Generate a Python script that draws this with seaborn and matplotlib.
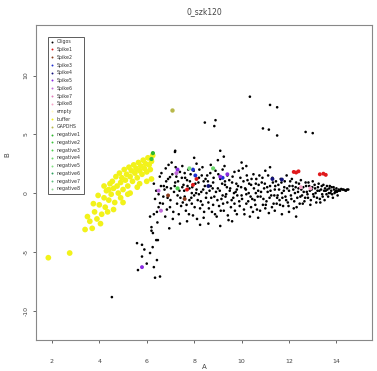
import matplotlib
matplotlib.use("Agg")
import matplotlib.pyplot as plt
import seaborn as sns
import pandas as pd
from matplotlib.lines import Line2D

title = "0_szk120"
x_label = "A"
y_label = "B"
x_ticks = [2, 4, 6, 8, 10, 12, 14]
y_ticks = [-10, -5, 0, 5, 10]

legend_labels = ["Oligos", "Spike1", "Spike2", "Spike3", "Spike4", "Spike5", "Spike6",
                 "Spike7", "Spike8", "empty", "buffer", "GAPDHS", "negative1", "negative2",
                 "negative3", "negative4", "negative5", "negative6", "negative7", "negative8"]
legend_colors = ["#000000", "#e0191b", "#8b3a1a", "#1f2fd0", "#12127a", "#8a2be2", "#c06ad8",
                 "#e07ab8", "#f5a6c8", "#fffcc0", "#f2f21a", "#b8b84a", "#2eb82e", "#3cc43c",
                 "#4fd04f", "#6ad86a", "#80e080", "#2e9e5e", "#5fbf7f", "#90d890"]

oligo_A = [6.3, 6.4, 6.35, 6.5, 6.3, 6.45, 6.2, 6.55, 6.4, 6.25, 6.5, 6.6,
           5.59, 5.8, 6.14, 5.8, 6.43, 5.63, 6.56, 6.35, 4.53, 6.2, 6.26, 6.47, 6.14, 6.43,
           6.56, 6.7, 6.85, 6.98, 7.27, 7.19, 6.0, 5.9, 6.3,
           6.8, 6.9, 6.75, 7.0, 6.85, 7.1, 7.2, 7.3, 7.4, 7.05, 7.45, 7.35, 7.15, 7.25, 7.5,
           6.95, 7.4, 7.5,
           7.6, 7.7, 7.65, 7.8, 7.75, 7.9, 7.85, 8.0, 8.05, 7.95, 8.1, 8.15, 8.2, 8.25, 8.3,
           8.35, 8.4, 8.45, 8.5, 7.55, 7.7, 8.0, 8.25, 7.8, 8.1, 8.4, 7.6, 8.2, 8.35, 7.9,
           8.55, 8.6, 8.65, 8.7, 8.75, 8.8, 8.85, 8.9, 8.95, 9.0, 9.05, 9.1, 9.15, 9.2, 9.25,
           9.3, 9.35, 9.4, 9.45, 9.5, 8.6, 9.0, 8.8, 9.2, 9.4, 8.7, 9.1, 9.3,
           9.55, 9.6, 9.65, 9.7, 9.75, 9.8, 9.85, 9.9, 9.95, 10.0, 10.05, 10.1, 10.15, 10.2,
           10.25, 10.3, 10.35, 10.4, 10.45, 10.5, 9.6, 10.0, 9.8, 10.2, 10.4, 9.7,
           10.55, 10.6, 10.65, 10.7, 10.75, 10.8, 10.85, 10.9, 10.95, 11.0, 11.05, 11.1,
           11.15, 11.2, 11.25, 11.3, 11.35, 11.4, 11.45, 11.5, 10.7, 11.0, 11.2, 10.6, 11.4,
           11.55, 11.6, 11.65, 11.7, 11.75, 11.8, 11.85, 11.9, 11.95, 12.0, 12.05, 12.1,
           12.15, 12.2, 12.25, 12.3, 12.35, 12.4, 12.45, 12.5, 11.7, 12.0, 12.3,
           12.55, 12.6, 12.65, 12.7, 12.75, 12.8, 12.85, 12.9, 12.95, 13.0, 13.05, 13.1,
           13.15, 13.2, 13.25, 13.3, 13.35, 13.4, 13.45, 13.5,
           13.55, 13.6, 13.65, 13.7, 13.75, 13.8, 13.85, 13.9, 13.95, 14.0, 14.05, 14.1,
           14.15, 14.25, 14.35, 14.45,
           10.35, 11.2, 11.5, 8.45, 8.9, 8.85, 10.9, 11.15, 11.5, 12.7, 13.0, 7.2, 9.1,
           9.25, 10.2]
oligo_B = [0.8, 0.2, -0.5, -1.2, -1.8, -2.5, -3.2, 1.4, -4.0, -4.6, -0.1, 0.6,
           -4.26, -4.4, -5.1, -5.4, -5.7, -6.55, -7.1, -7.2, -8.85, -2.9, -3.4, -4.0, -2.0,
           -1.6, -0.85, -0.3, 0.5, 1.36, 1.7, 3.5, -6.0, -4.8, -6.3,
           2.1, 1.2, 0.3, -0.6, -1.4, -2.2, 0.9, -0.2, 1.8, 2.6, -1.1, -1.8, 0.1, 1.4, 0.5,
           -3.0, -2.6, 2.3,
           -0.3, 1.1, -1.5, 0.4, 2.0, -0.9, 1.6, -0.2, 0.8, -1.9, 2.5, -0.6, 1.3, -1.3, 0.1,
           2.2, -2.1, 0.6, -0.4, 0.7, -2.4, 3.0, -2.7, -0.6, 0.3, 1.0, 1.7, -0.1, -1.0, 0.0,
           1.5, -0.8, 0.2, 2.4, -1.6, 0.9, -0.3, 1.9, -2.0, 0.4, -1.1, 1.2, -0.5, 2.0, -1.5,
           0.7, -0.1, 1.5, -2.3, 0.2, -2.6, 2.8, -1.0, -0.2, -0.8, 0.6, -2.8, 1.0,
           -1.2, 0.9, -0.4, 1.8, 0.1, -1.8, 0.6, -0.7, 1.3, -0.2, 2.1, -1.4, 0.4, -0.9,
           1.1, 0.0, -2.0, 0.7, -0.5, 1.6, -2.4, 2.6, 0.3, -0.1, -1.2, -0.9,
           -0.6, 0.8, -1.4, 0.2, 1.5, -0.3, 0.9, -1.0, 0.4, 1.9, -0.7, 0.1,
           -1.7, 0.6, -0.2, 1.3, -0.9, 0.3, 1.0, -0.4, -2.1, -1.3, 2.2, 0.0, -1.5,
           0.7, -0.6, 1.2, 0.0, -1.1, 0.5, -0.3, 1.5, -0.8, 0.2, 1.0, -0.5,
           0.6, -1.3, 0.0, 0.9, -0.4, 0.4, -0.9, 1.1, -1.8, -1.6, -2.0,
           -0.2, 0.5, -0.7, 0.9, 0.1, -0.4, 0.6, -1.0, 0.3, 1.0, -0.3, 0.4,
           -0.8, 0.2, 0.8, -0.5, 0.3, -0.1, 0.7, -0.6,
           0.2, 0.6, -0.3, 0.4, 0.0, 0.5, -0.4, 0.3, 0.1, 0.4, -0.2, 0.3,
           0.2, 0.3, 0.25, 0.3,
           8.2, 7.5, 7.3, 6.0, 6.2, 5.7, 5.5, 5.4, 4.9, 5.2, 5.1, 3.6, 3.6,
           3.1, 2.3]

oligo_A_dense = [7.52, 7.58, 7.62, 7.68, 7.72, 7.78, 7.82, 7.88, 7.92, 7.98, 8.02, 8.08,
                 8.12, 8.18, 8.22, 8.28, 8.32, 8.38, 8.42, 8.48,
                 8.52, 8.58, 8.62, 8.68, 8.72, 8.78, 8.82, 8.88, 8.92, 8.98, 9.02, 9.08,
                 9.12, 9.18, 9.22, 9.28, 9.32, 9.38, 9.42, 9.48,
                 9.52, 9.58, 9.62, 9.68, 9.72, 9.78, 9.82, 9.88, 9.92, 9.98, 10.02, 10.08,
                 10.12, 10.18, 10.22, 10.28, 10.32, 10.38, 10.42, 10.48,
                 10.52, 10.58, 10.62, 10.68, 10.72, 10.78, 10.82, 10.88, 10.92, 10.98,
                 11.02, 11.08, 11.12, 11.18, 11.22, 11.28, 11.32, 11.38, 11.42, 11.48,
                 11.52, 11.58, 11.62, 11.68, 11.72, 11.78, 11.82, 11.88, 11.92, 11.98,
                 12.02, 12.08, 12.12, 12.18, 12.22, 12.28, 12.32, 12.38, 12.42, 12.48,
                 12.52, 12.58, 12.62, 12.68, 12.72, 12.78, 12.82, 12.88, 12.92, 12.98,
                 13.02, 13.08, 13.12, 13.18, 13.22, 13.28, 13.32, 13.38, 13.42, 13.48,
                 6.62, 6.68, 6.72, 6.78, 6.82, 6.88, 6.92, 6.98, 7.02, 7.08, 7.12, 7.18,
                 7.22, 7.28, 7.32, 7.38, 7.42, 7.48,
                 13.52, 13.58, 13.62, 13.68, 13.72, 13.78, 13.82, 13.88, 13.92, 13.98,
                 14.02, 14.08, 14.2, 14.3, 14.4, 14.5]
oligo_B_dense = [-0.8, 0.2, 1.3, -1.0, 0.6, -1.8, 1.0, -0.4, 0.5, 1.9, -1.2, 0.0,
                 -2.2, 0.9, 2.0, -0.7, 1.5, 0.3, -1.6, 1.2,
                 0.0, 1.0, -1.3, 1.7, -0.4, 0.4, 1.3, -1.8, 0.1, -0.6, 1.6, 0.2,
                 -1.5, 0.8, -0.9, 2.3, -0.3, 0.5, -1.9, 1.1,
                 0.4, -0.6, 1.4, 0.0, -1.5, 0.8, -0.2, 1.9, -1.1, 0.5, -0.5, 1.0,
                 -1.8, 0.3, 1.5, -0.7, 0.8, -0.3, 1.2, -1.6,
                 0.4, -1.0, 1.2, -0.3, 0.7, -1.5, 0.1, 1.3, -0.5, 0.8,
                 -1.0, 0.5, 1.5, -0.4, 0.2, -1.2, 0.9, -0.2, 0.6, -0.9,
                 -0.2, 0.3, -1.0, 0.9, -0.4, 0.2, 1.0, -0.6, 0.4, -1.1,
                 0.6, -0.2, 1.2, 0.3, -0.7, 0.5, -1.2, 0.1, 0.8, -0.3,
                 0.3, -0.9, 0.1, -0.4, 0.6, -0.1, 0.9, 0.2, -0.6, 0.5,
                 -0.1, 0.7, 0.0, -0.4, 0.5, 0.2, -0.8, 0.6, -0.3, 0.2,
                 1.7, -0.9, 0.6, -2.0, 1.0, -0.4, 2.4, -1.2, 0.4, 1.6, -1.6, 0.6,
                 2.2, -0.9, 1.0, 0.2, -0.4, 1.3,
                 0.4, -0.1, 0.3, 0.0, 0.6, 0.2, -0.1, 0.5, 0.0, 0.2,
                 0.1, 0.2, 0.35, 0.3, 0.2, 0.3]

yellow_A = [1.85, 2.75, 3.4, 3.6, 3.7, 3.8, 3.9, 4.0, 4.1, 4.2, 4.25, 4.3, 4.4, 4.45, 4.5,
            4.55, 4.6, 4.65, 4.7, 4.75, 4.8, 4.85, 4.9, 4.95, 5.0, 5.05, 5.1, 5.15, 5.2,
            5.25, 5.3, 5.35, 5.4, 5.45, 5.5, 5.55, 5.6, 5.65, 5.7, 5.75, 5.8, 5.85, 5.9,
            5.95, 6.0, 6.05, 6.1, 6.15, 6.2, 4.9, 5.2, 4.4, 3.95, 5.6, 6.2, 6.25,
            3.5, 4.05, 4.35, 4.6, 5.0, 5.3, 5.7, 6.0, 4.2, 3.75]
yellow_B = [-5.5, -5.1, -3.1, -2.4, -3.0, -1.6, -2.2, -1.0, -1.8, -0.4, -1.2, 0.2, -0.6,
            0.8, -0.1, 1.0, 0.4, -0.8, 1.4, 0.6, 0.0, 1.7, 0.9, 1.3, 0.3, 2.0, 1.1, 1.6,
            0.6, 2.2, 1.4, 1.9, 1.0, 2.4, 1.7, 2.1, 1.3, 2.6, 1.9, 2.3, 1.6, 2.8, 2.1, 2.5,
            1.8, 3.0, 2.4, 2.0, 2.7, -0.4, -0.1, 0.3, -0.2, 0.5, 1.2, 3.2,
            -2.0, -2.6, -1.6, -1.4, -0.8, 0.0, 0.8, 1.0, 0.6, -0.9]

gapdh_A = [7.06]
gapdh_B = [7.1]

negative_A = [6.26, 6.2, 7.3, 8.8, 7.8]
negative_B = [3.4, 2.9, 0.4, 2.1, 2.1]
negative_group = ["negative1", "negative2", "negative3", "negative4", "negative5"]

spike_A = [12.2, 12.3, 12.4, 13.3, 13.45, 13.55, 7.95, 7.7, 8.1,
           7.95, 8.05, 9.2, 11.3, 11.7, 8.6,
           7.3, 9.1, 9.4, 5.8,
           7.25, 6.5, 6.6, 12.5, 12.9, 6.9, 7.6]
spike_B = [1.8, 1.75, 1.85, 1.6, 1.65, 1.55, 0.7, 0.3, 1.2,
           2.0, 1.5, 1.3, 1.2, 1.15, 0.6,
           2.0, 1.4, 1.6, -6.3,
           1.7, 0.2, -1.5, 0.5, 0.4, -0.2, -0.5]
spike_group = ["Spike1"] * 9 + ["Spike3"] * 3 + ["Spike4"] * 3 + ["Spike5"] * 4 + \
              ["Spike6"] * 3 + ["Spike8"] * 2 + ["Spike2"] * 2

palette = dict(zip(legend_labels, legend_colors))

oligos = pd.DataFrame({"A": oligo_A + oligo_A_dense, "B": oligo_B + oligo_B_dense,
                       "group": "Oligos"})
yellow = pd.DataFrame({"A": yellow_A, "B": yellow_B, "group": "buffer"})
gapdh = pd.DataFrame({"A": gapdh_A, "B": gapdh_B, "group": "GAPDHS"})
neg = pd.DataFrame({"A": negative_A, "B": negative_B, "group": negative_group})
spikes = pd.DataFrame({"A": spike_A, "B": spike_B, "group": spike_group})

sns.set_style("white")
plt.rcParams["font.family"] = ["DejaVu Sans"]

fig = plt.figure(figsize=(3.77, 3.71), dpi=100)
ax = fig.add_axes([36 / 377, 31 / 371, 336 / 377, 315 / 371])

sns.scatterplot(data=yellow, x="A", y="B", hue="group", palette=palette, s=17,
                linewidth=0, ax=ax, legend=False)
sns.scatterplot(data=oligos, x="A", y="B", hue="group", palette=palette, s=3.5,
                linewidth=0, ax=ax, legend=False)
sns.scatterplot(data=gapdh, x="A", y="B", hue="group", palette=palette, s=10,
                linewidth=0, ax=ax, legend=False)
sns.scatterplot(data=spikes, x="A", y="B", hue="group", palette=palette, s=8,
                linewidth=0, ax=ax, legend=False)
sns.scatterplot(data=neg, x="A", y="B", hue="group", palette=palette, s=9,
                linewidth=0, ax=ax, legend=False)

ax.set_xlim(1.33, 15.5)
ax.set_ylim(-12.5, 14.3)
ax.set_xticks(x_ticks)
ax.set_yticks(y_ticks)
ax.set_xticklabels([str(t) for t in x_ticks], fontsize=4.5, color="#444444")
ax.set_yticklabels([str(t) for t in y_ticks], fontsize=4.5, color="#444444",
                   rotation=90, va="center")
ax.tick_params(axis="both", which="both", direction="out", length=2.5, width=0.7,
               color="#666666", bottom=True, left=True)
ax.tick_params(axis="x", pad=11)
ax.tick_params(axis="y", pad=3)
for sp in ax.spines.values():
    sp.set_color("#888888")
    sp.set_linewidth(0.8)
ax.set_xlabel(x_label, fontsize=5, color="#444444", labelpad=0)
ax.set_ylabel(y_label, fontsize=5, color="#444444")
ax.yaxis.set_label_coords(-0.075, 0.59)
ax.set_title(title, fontsize=5.5, color="#444444", pad=8)

handles = [Line2D([0], [0], marker="o", linestyle="", markersize=1.4,
                  markerfacecolor=c, markeredgewidth=0) for c in legend_colors]
leg = ax.legend(handles, legend_labels, loc="upper left", bbox_to_anchor=(0.036, 0.962),
                fontsize=3.4, labelspacing=0.58, handlelength=0.8, handletextpad=0.6,
                borderpad=0.5, borderaxespad=0, frameon=True, fancybox=False)
leg.get_frame().set_edgecolor("#333333")
leg.get_frame().set_linewidth(0.7)
for t in leg.get_texts():
    t.set_color("#333333")

fig.savefig("out.png", dpi=100)
